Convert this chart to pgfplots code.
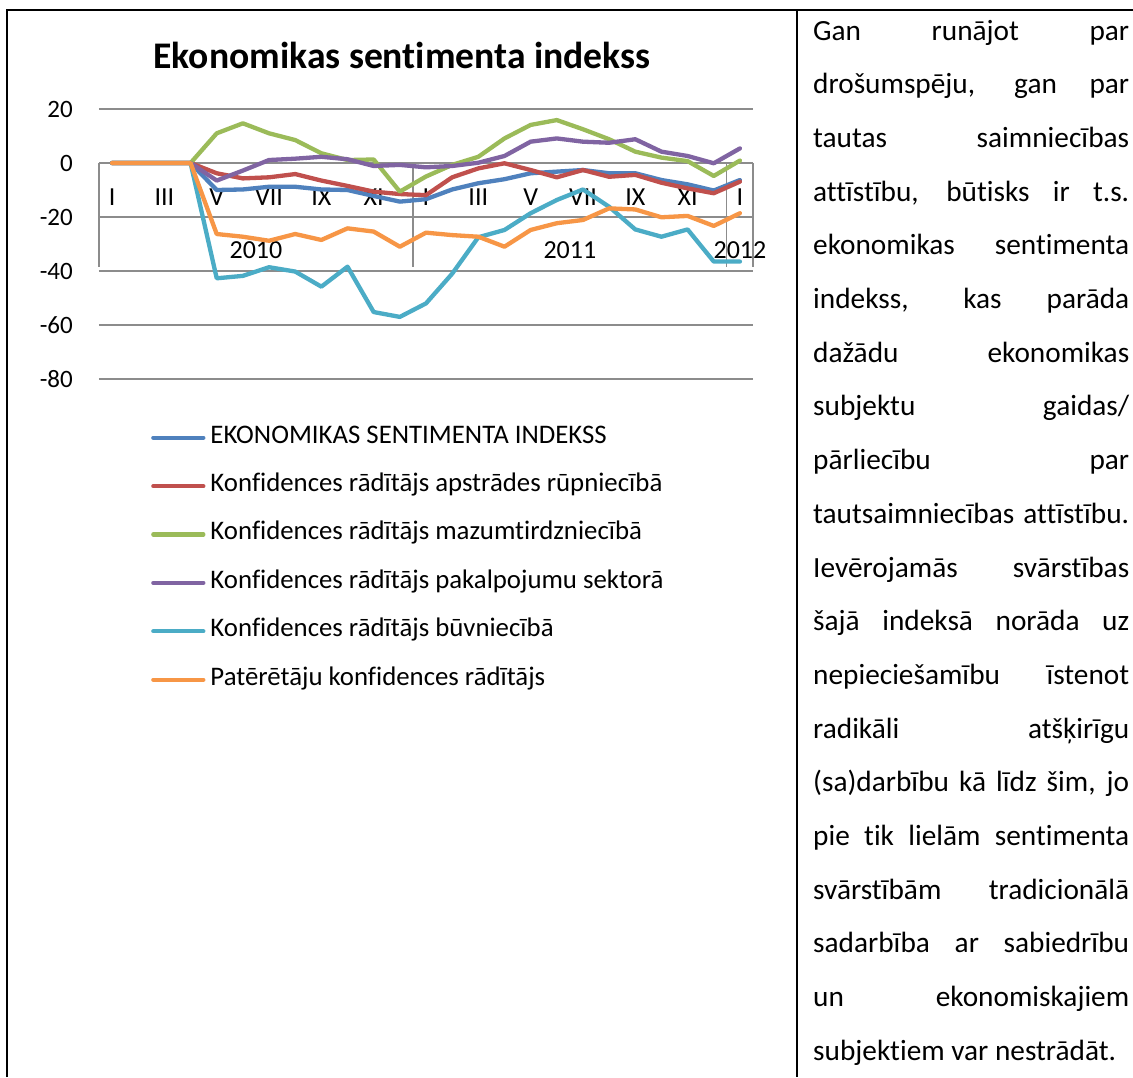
\documentclass[border=0pt]{standalone}
\usepackage{pgfplots}
\usepackage{pgfplotstable}
\pgfplotsset{compat=1.18}
\usepackage{fontspec}
\setmainfont{Carlito}[Ligatures=NoCommon, Contextuals=NoAlternate]
\definecolor{cesi}{HTML}{4F81BD}
\definecolor{cman}{HTML}{C0504D}
\definecolor{cret}{HTML}{9BBB59}
\definecolor{csrv}{HTML}{8064A2}
\definecolor{ccon}{HTML}{4BACC6}
\definecolor{ccons}{HTML}{F79646}
\definecolor{gridgray}{HTML}{8C8C8C}
\pgfplotstableread{
i esi man ret srv con cons
0 0 0 0 0 0 0
1 0 0 0 0 0 0
2 0 0 0 0 0 0
3 0 0 0 0 0 0
4 -10 -3.8 11 -6.5 -42.7 -26.3
5 -9.8 -5.7 14.7 -2.8 -41.8 -27.3
6 -8.8 -5.3 11 1.1 -38.6 -28.8
7 -8.8 -4.1 8.5 1.6 -40.2 -26.3
8 -9.8 -6.5 3.6 2.3 -45.8 -28.5
9 -10 -8.5 1.1 1.4 -38.4 -24.2
10 -12.2 -10.6 1.3 -1.1 -55.2 -25.4
11 -14.3 -11.5 -10.6 -0.7 -57 -31
12 -13.4 -11.9 -5 -1.6 -52 -25.8
13 -9.8 -5.3 -0.7 -1.1 -41 -26.7
14 -7.5 -2 2.3 0.1 -27.5 -27.3
15 -6 -0.1 9.1 2.6 -24.8 -31
16 -3.8 -2.6 14.1 7.9 -18.6 -24.8
17 -3.2 -5.3 15.9 9.1 -13.7 -22.3
18 -2.6 -2.6 12.5 7.9 -9.8 -21.1
19 -3.8 -5.1 8.8 7.5 -16.2 -16.8
20 -3.8 -4.4 4.2 8.8 -24.6 -17.2
21 -6.3 -7.3 2 4.2 -27.3 -20.1
22 -7.9 -9.4 0.7 2.6 -24.6 -19.6
23 -10.2 -11.2 -4.8 -0.1 -36.5 -23.3
24 -6.3 -6.9 0.9 5.4 -36.5 -18.6
}\data
\newcommand{\lbl}{\fontsize{25}{28}\selectfont}
\newcommand{\cat}{\fontsize{26}{28}\selectfont}
\newcommand{\leg}{\fontsize{26.8}{28}\selectfont}
\begin{document}
\begin{tikzpicture}[x=1pt,y=1pt]
\useasboundingbox (0,0) rectangle (1133,-1077);
\fill[white] (0,0) rectangle (1133,-1077);
\draw[line width=2.2pt] (7,-1077) -- (7,-10) -- (1133,-10);
\draw[line width=2.2pt] (797,-10) -- (797,-1077);
\node[font=\bfseries\fontsize{37.6}{40}\selectfont, anchor=base] at (402,-68) {Ekonomikas sentimenta indekss};
\begin{axis}[
  at={(99pt,-379pt)}, anchor=south west,
  scale only axis, width=654pt, height=270pt,
  xmin=-0.5, xmax=24.5, ymin=-80, ymax=20,
  ytick={-80,-60,-40,-20,0,20},
  yticklabels={-80,-60,-40,-20,0,20},
  xtick=\empty,
  ymajorgrids,
  grid style={draw=gridgray, line width=1.3pt},
  axis line style={draw=none},
  major tick length=0pt,
  yticklabel style={font=\lbl, anchor=east, inner sep=0pt, xshift=-26pt},
  clip=false,
  every axis plot/.append style={line width=4.3pt, line join=round, line cap=round, mark=none},
  legend style={at={(axis description cs:0.0795,-0.174)}, anchor=north west,
    draw=none, fill=none, inner sep=0pt, row sep=25.4pt, column sep=5pt,
    font=\leg, nodes={inner sep=0pt, text height=17pt, text depth=6pt},
    cells={anchor=west}},
  legend image code/.code={\draw[line width=4.3pt, line cap=round] (2pt,0pt) -- (52pt,0pt);},
]
% category axis separators
\draw[gridgray, line width=1.3pt] (axis cs:-0.5,0) -- (axis cs:-0.5,-38.5);
\draw[gridgray, line width=1.3pt] (axis cs:11.5,0) -- (axis cs:11.5,-38.5);
\draw[gridgray, line width=1.3pt] (axis cs:23.5,0) -- (axis cs:23.5,-38.5);
\draw[gridgray, line width=1.3pt] (axis cs:24.5,0) -- (axis cs:24.5,-38.5);
% month labels
\node[font=\cat] at (axis cs:0,-12.8) {I};
\node[font=\cat] at (axis cs:2,-12.8) {III};
\node[font=\cat] at (axis cs:4,-12.8) {V};
\node[font=\cat] at (axis cs:6,-12.8) {VII};
\node[font=\cat] at (axis cs:8,-12.8) {IX};
\node[font=\cat] at (axis cs:10,-12.8) {XI};
\node[font=\cat] at (axis cs:12,-12.8) {I};
\node[font=\cat] at (axis cs:14,-12.8) {III};
\node[font=\cat] at (axis cs:16,-12.8) {V};
\node[font=\cat] at (axis cs:18,-12.8) {VII};
\node[font=\cat] at (axis cs:20,-12.8) {IX};
\node[font=\cat] at (axis cs:22,-12.8) {XI};
\node[font=\cat] at (axis cs:24,-12.8) {I};
\node[font=\cat] at (axis cs:5.5,-32.2) {2010};
\node[font=\cat] at (axis cs:17.5,-32.2) {2011};
\node[font=\cat] at (axis cs:24,-32.2) {2012};
\addplot[cesi] table[x=i,y=esi] {\data};
\addlegendentry{EKONOMIKAS SENTIMENTA INDEKSS}
\addplot[cman] table[x=i,y=man] {\data};
\addlegendentry{Konfidences rādītājs apstrādes rūpniecībā}
\addplot[cret] table[x=i,y=ret] {\data};
\addlegendentry{Konfidences rādītājs mazumtirdzniecībā}
\addplot[csrv] table[x=i,y=srv] {\data};
\addlegendentry{Konfidences rādītājs pakalpojumu sektorā}
\addplot[ccon] table[x=i,y=con] {\data};
\addlegendentry{Konfidences rādītājs būvniecībā}
\addplot[ccons] table[x=i,y=cons] {\data};
\addlegendentry{Patērētāju konfidences rādītājs}
\end{axis}
\begin{scope}[every node/.style={anchor=base west, inner sep=0pt, font=\fontsize{29.3}{30}\selectfont}]
\node at (813,-40.0) {\makebox[316pt][s]{Gan runājot par}};
\node at (813,-93.7) {\makebox[316pt][s]{drošumspēju, gan par}};
\node at (813,-147.4) {\makebox[316pt][s]{tautas saimniecības}};
\node at (813,-201.1) {\makebox[316pt][s]{attīstību, būtisks ir t.s.}};
\node at (813,-254.8) {\makebox[316pt][s]{ekonomikas sentimenta}};
\node at (813,-308.5) {\makebox[316pt][s]{indekss, kas parāda}};
\node at (813,-362.2) {\makebox[316pt][s]{dažādu ekonomikas}};
\node at (813,-415.9) {\makebox[316pt][s]{subjektu gaidas/}};
\node at (813,-469.6) {\makebox[316pt][s]{pārliecību par}};
\node at (813,-523.3) {\makebox[316pt][s]{tautsaimniecības attīstību.}};
\node at (813,-577.0) {\makebox[316pt][s]{Ievērojamās svārstības}};
\node at (813,-630.7) {\makebox[316pt][s]{šajā indeksā norāda uz}};
\node at (813,-684.4) {\makebox[316pt][s]{nepieciešamību īstenot}};
\node at (813,-738.1) {\makebox[316pt][s]{radikāli atšķirīgu}};
\node at (813,-791.8) {\makebox[316pt][s]{(sa)darbību kā līdz šim, jo}};
\node at (813,-845.5) {\makebox[316pt][s]{pie tik lielām sentimenta}};
\node at (813,-899.2) {\makebox[316pt][s]{svārstībām tradicionālā}};
\node at (813,-952.9) {\makebox[316pt][s]{sadarbība ar sabiedrību}};
\node at (813,-1006.6) {\makebox[316pt][s]{un ekonomiskajiem}};
\node at (813,-1060.3) {subjektiem var nestrādāt.};
\end{scope}
\end{tikzpicture}
\end{document}
